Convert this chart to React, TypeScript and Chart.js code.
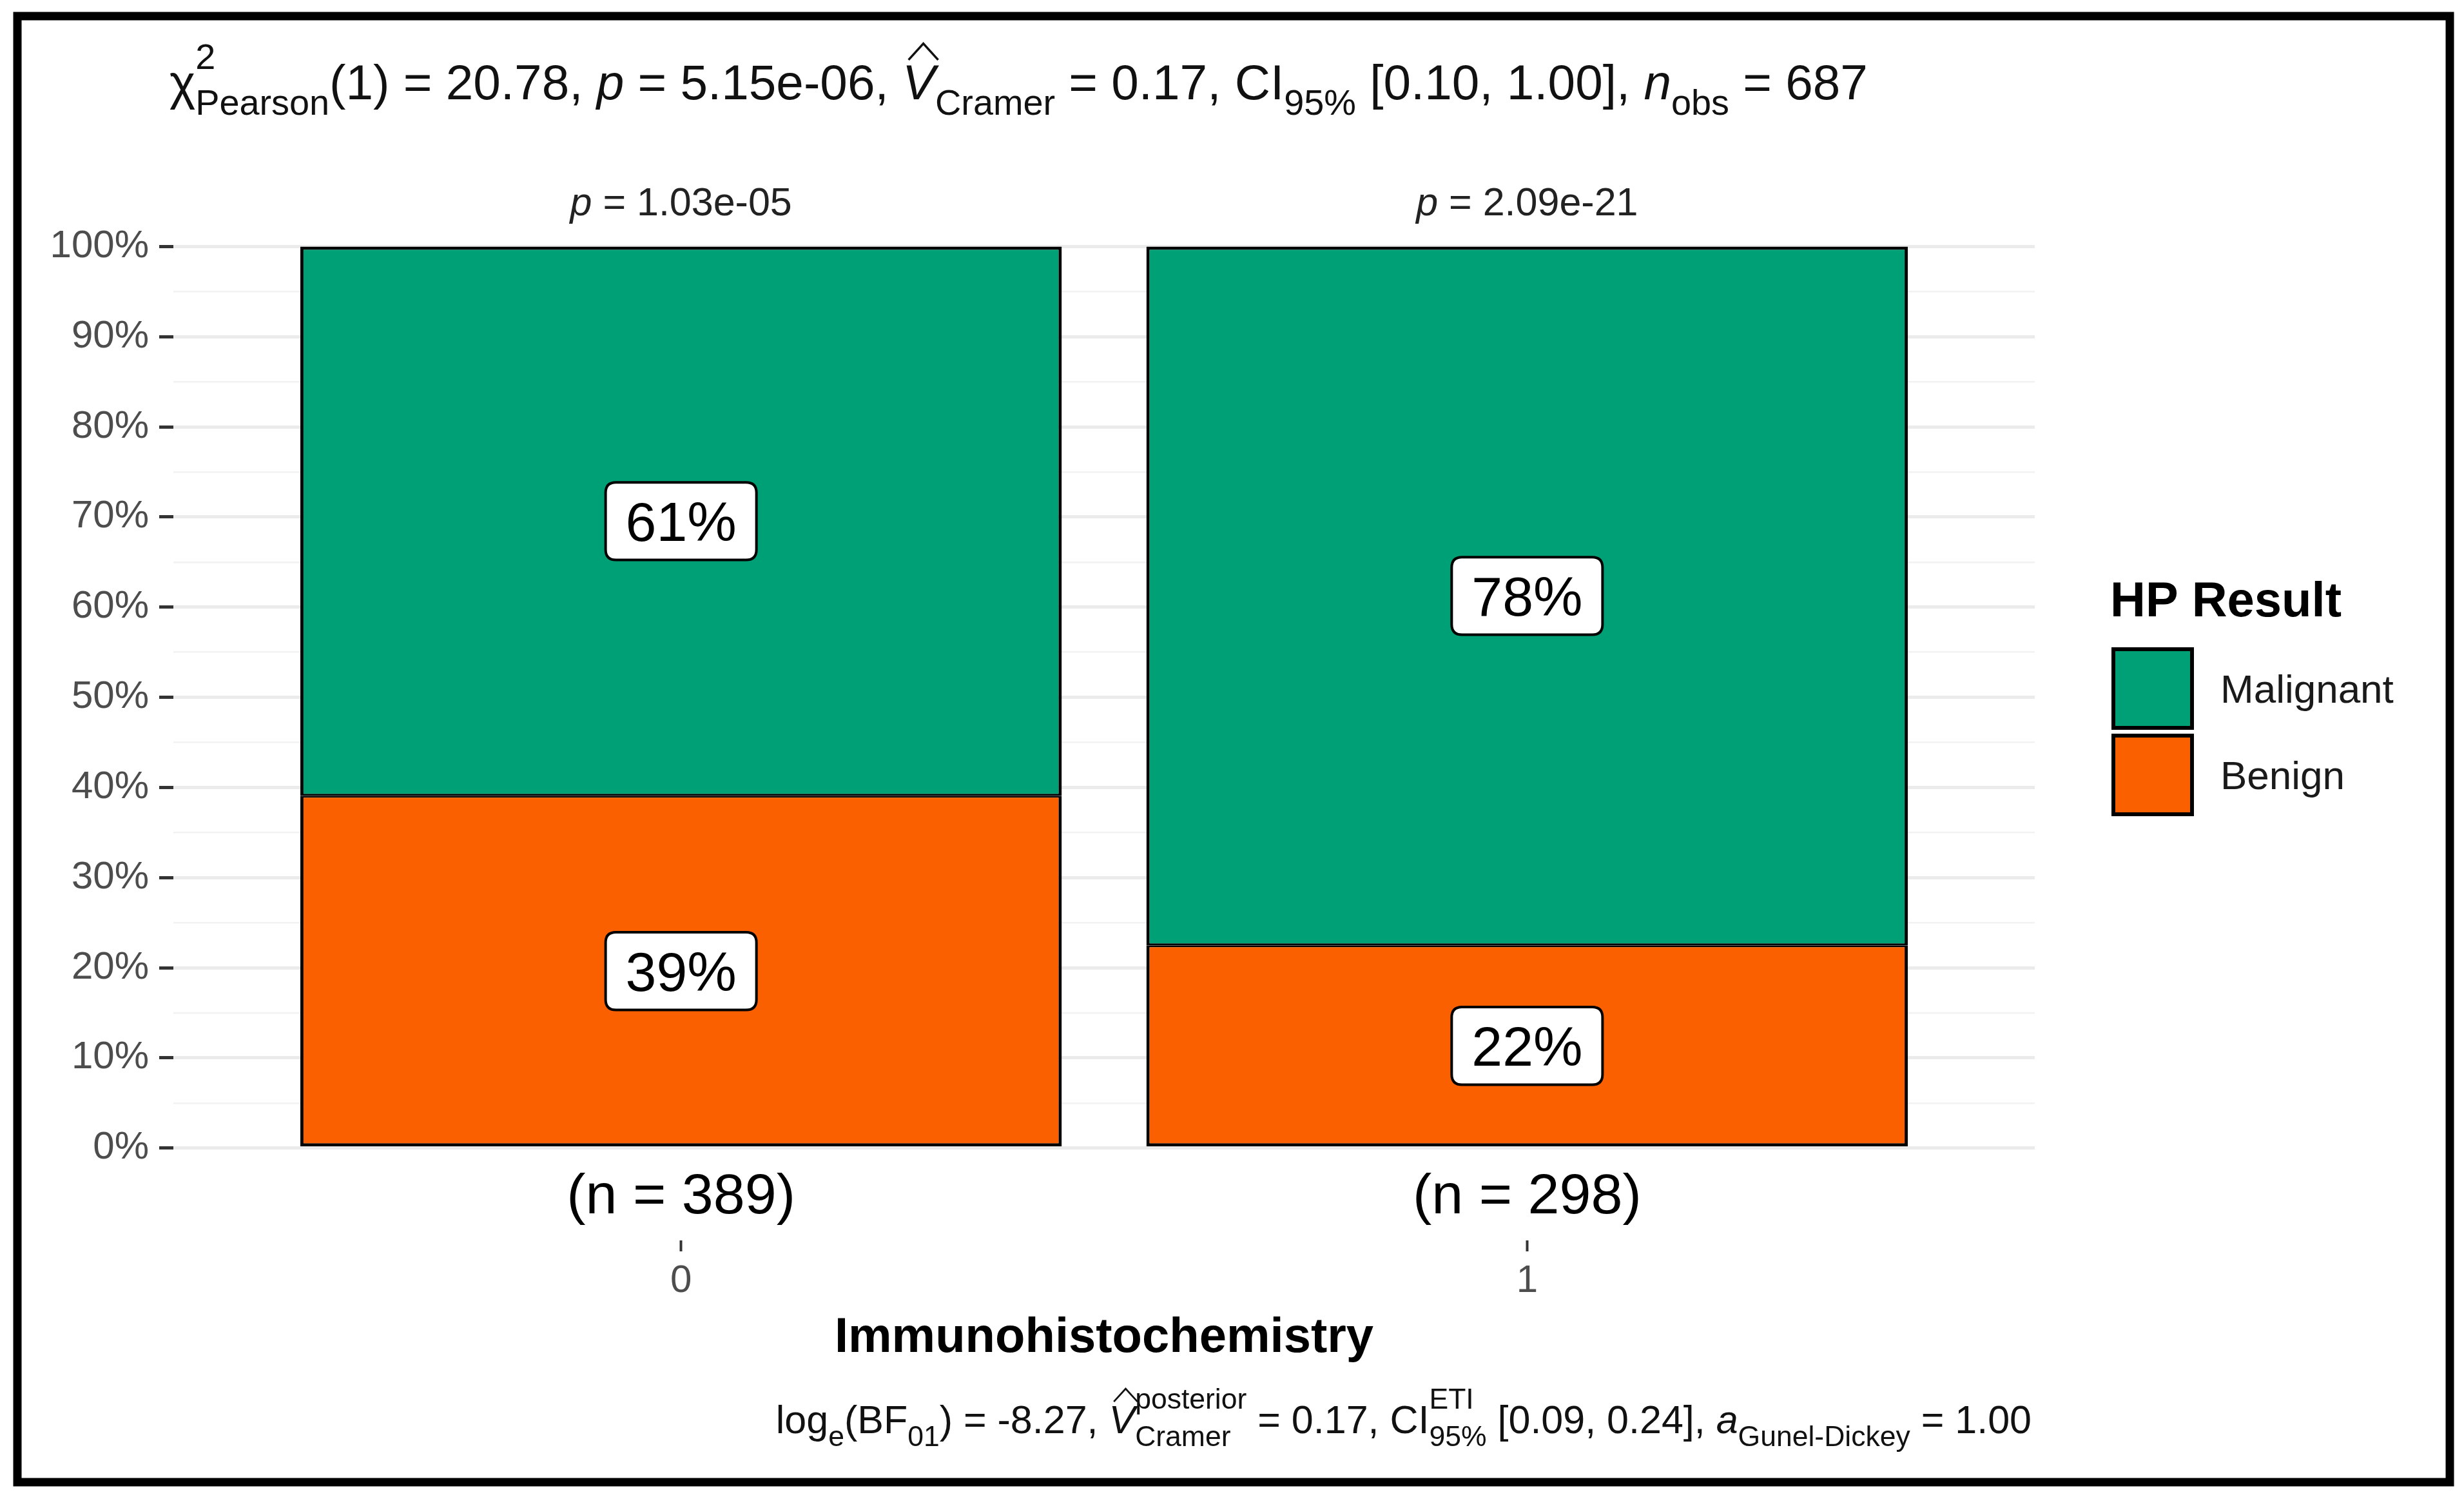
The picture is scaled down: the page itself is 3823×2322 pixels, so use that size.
import React, { useEffect, useRef } from "react";
import { Chart, registerables } from "chart.js";

Chart.register(...registerables);

// ---------- data ----------
const categories = ["0", "1"];
const sampleSizes = [389, 298];
const malignantPct = [60.93, 77.52];
const benignPct = [39.07, 22.48];
const groupPValues = ["1.03e-05", "2.09e-21"];
const majorTicks = [0, 10, 20, 30, 40, 50, 60, 70, 80, 90, 100];
const minorTicks = [5, 15, 25, 35, 45, 55, 65, 75, 85, 95];
const legendTitle = "HP Result";
const xAxisTitle = "Immunohistochemistry";

// ---------- styles ----------
const W = 3823;
const H = 2322;
const FONT = "'Liberation Sans', Arial, Helvetica, sans-serif";
const GREEN = "#00A077";
const ORANGE = "#FA6000";

type Seg = { t?: string; it?: boolean; hat?: boolean; sup?: string; sub?: string };

const titleSegs: Seg[] = [
  { t: "\u03C7", sup: "2", sub: "Pearson" },
  { t: "(1) = 20.78, " },
  { t: "p", it: true },
  { t: " = 5.15e-06, " },
  { t: "V", it: true, hat: true, sub: "Cramer" },
  { t: " = 0.17, CI", sub: "95%" },
  { t: " [0.10, 1.00], " },
  { t: "n", it: true, sub: "obs" },
  { t: " = 687" },
];

const captionSegs: Seg[] = [
  { t: "log", sub: "e" },
  { t: "(BF", sub: "01" },
  { t: ") = -8.27, " },
  { t: "V", it: true, hat: true, sup: "posterior", sub: "Cramer" },
  { t: " = 0.17, CI", sup: "ETI", sub: "95%" },
  { t: " [0.09, 0.24], " },
  { t: "a", it: true, sub: "Gunel-Dickey" },
  { t: " = 1.00" },
];

function rich(
  ctx: CanvasRenderingContext2D,
  segs: Seg[],
  x: number,
  base: number,
  M: number,
  draw: boolean
): number {
  const S = M * 0.73;
  let cx = x;
  for (const s of segs) {
    if (s.t) {
      ctx.font = `${s.it ? "italic " : ""}${M}px ${FONT}`;
      const w = ctx.measureText(s.t).width;
      if (draw) {
        ctx.fillText(s.t, cx, base);
        if (s.hat) {
          const off = s.it ? M * 0.06 : 0;
          ctx.save();
          ctx.lineWidth = M * 0.045;
          ctx.lineJoin = "miter";
          ctx.beginPath();
          ctx.moveTo(cx + w * 0.1 + off, base - M * 0.8);
          ctx.lineTo(cx + w * 0.55 + off, base - M * 1.13);
          ctx.lineTo(cx + w * 1.0 + off, base - M * 0.8);
          ctx.stroke();
          ctx.restore();
        }
      }
      cx += w;
    }
    if (s.sup || s.sub) {
      ctx.font = `${S}px ${FONT}`;
      let w = 0;
      if (s.sup) {
        w = Math.max(w, ctx.measureText(s.sup).width);
        if (draw) ctx.fillText(s.sup, cx, base - M * 0.62);
      }
      if (s.sub) {
        w = Math.max(w, ctx.measureText(s.sub).width);
        if (draw) ctx.fillText(s.sub, cx, base + M * 0.32);
      }
      cx += w;
    }
  }
  return cx - x;
}

function roundRect(ctx: CanvasRenderingContext2D, x: number, y: number, w: number, h: number, r: number) {
  ctx.beginPath();
  ctx.moveTo(x + r, y);
  ctx.lineTo(x + w - r, y);
  ctx.quadraticCurveTo(x + w, y, x + w, y + r);
  ctx.lineTo(x + w, y + h - r);
  ctx.quadraticCurveTo(x + w, y + h, x + w - r, y + h);
  ctx.lineTo(x + r, y + h);
  ctx.quadraticCurveTo(x, y + h, x, y + h - r);
  ctx.lineTo(x, y + r);
  ctx.quadraticCurveTo(x, y, x + r, y);
  ctx.closePath();
}

const decorPlugin = {
  id: "decor",
  beforeDraw(chart: any) {
    const ctx = chart.ctx as CanvasRenderingContext2D;
    ctx.save();
    ctx.fillStyle = "#FFFFFF";
    ctx.fillRect(0, 0, chart.width, chart.height);
    ctx.restore();
  },
  afterDatasetsDraw(chart: any) {
    const ctx = chart.ctx as CanvasRenderingContext2D;
    const fs = 86;
    ctx.save();
    chart.data.datasets.forEach((ds: any, di: number) => {
      const meta = chart.getDatasetMeta(di);
      meta.data.forEach((el: any, i: number) => {
        const p = el.getProps(["x", "y", "base"], true);
        const cy = (p.y + p.base) / 2;
        const label = Math.round(ds.data[i].y) + "%";
        ctx.font = `${fs}px ${FONT}`;
        const tw = ctx.measureText(label).width;
        const bw = tw + fs * 0.72;
        const bh = fs * 1.4;
        roundRect(ctx, p.x - bw / 2, cy - bh / 2, bw, bh, 16);
        ctx.fillStyle = "#FFFFFF";
        ctx.fill();
        ctx.lineWidth = 4;
        ctx.strokeStyle = "#000000";
        ctx.stroke();
        ctx.fillStyle = "#000000";
        ctx.textAlign = "center";
        ctx.textBaseline = "alphabetic";
        ctx.fillText(label, p.x, cy + fs * 0.36);
      });
    });
    ctx.restore();
  },
  afterDraw(chart: any) {
    const ctx = chart.ctx as CanvasRenderingContext2D;
    const xs = chart.scales.x;
    const ys = chart.scales.y;
    const area = chart.chartArea;
    ctx.save();
    ctx.textAlign = "left";
    ctx.textBaseline = "alphabetic";

    // title
    ctx.fillStyle = "#111111";
    ctx.strokeStyle = "#111111";
    rich(ctx, titleSegs, 263, 154, 76.5, true);

    // group p-values and sample sizes
    categories.forEach((c, i) => {
      const px = xs.getPixelForValue(i + 1);
      const pSegs: Seg[] = [{ t: "p", it: true }, { t: " = " + groupPValues[i] }];
      const pm = 61;
      const pw = rich(ctx, pSegs, 0, 0, pm, false);
      ctx.fillStyle = "#222222";
      rich(ctx, pSegs, px - pw / 2, ys.getPixelForValue(105) + pm * 0.36, pm, true);

      ctx.fillStyle = "#000000";
      ctx.font = `88px ${FONT}`;
      ctx.textAlign = "center";
      ctx.fillText(`(n = ${sampleSizes[i]})`, px, ys.getPixelForValue(-5) + 88 * 0.36);
      ctx.textAlign = "left";
    });

    // x axis title
    ctx.fillStyle = "#000000";
    ctx.font = `bold 76px ${FONT}`;
    ctx.textAlign = "center";
    ctx.fillText(xAxisTitle, (area.left + area.right) / 2, 2097);
    ctx.textAlign = "left";

    // caption (right aligned to panel)
    ctx.fillStyle = "#111111";
    ctx.strokeStyle = "#111111";
    const cm = 61;
    const cw = rich(ctx, captionSegs, 0, 0, cm, false);
    rich(ctx, captionSegs, area.right - 5 - cw, 2223, cm, true);

    // legend
    ctx.fillStyle = "#000000";
    ctx.font = `bold 76px ${FONT}`;
    ctx.fillText(legendTitle, 3274, 956);
    const dsets = chart.data.datasets.slice().reverse();
    dsets.forEach((ds: any, k: number) => {
      const ky = 1007 + k * 134;
      ctx.fillStyle = ds.backgroundColor;
      ctx.fillRect(3279, ky, 122, 122);
      ctx.lineWidth = 6;
      ctx.strokeStyle = "#000000";
      ctx.strokeRect(3279, ky, 122, 122);
      ctx.fillStyle = "#1A1A1A";
      ctx.font = `62px ${FONT}`;
      ctx.fillText(ds.label, 3445, ky + 61 + 62 * 0.36);
    });

    // outer frame
    ctx.lineWidth = 13;
    ctx.strokeStyle = "#000000";
    ctx.strokeRect(27, 25, 3774, 2274);
    ctx.restore();
  },
};

export default function App() {
  const ref = useRef<HTMLCanvasElement | null>(null);

  useEffect(() => {
    if (!ref.current) return;
    const isMajor = (v: number) => majorTicks.includes(v);
    const chart = new Chart(ref.current, {
      type: "bar",
      data: {
        datasets: [
          {
            label: "Benign",
            data: benignPct.map((v, i) => ({ x: i + 1, y: v })),
            backgroundColor: ORANGE,
            borderColor: "#000000",
            borderWidth: { top: 3, left: 5, right: 5, bottom: 5 },
            borderSkipped: false,
          },
          {
            label: "Malignant",
            data: malignantPct.map((v, i) => ({ x: i + 1, y: v })),
            backgroundColor: GREEN,
            borderColor: "#000000",
            borderWidth: { top: 5, left: 5, right: 5, bottom: 3 },
            borderSkipped: false,
          },
        ] as any,
      },
      options: {
        animation: false,
        responsive: false,
        devicePixelRatio: 1,
        barPercentage: 1,
        categoryPercentage: 0.9,
        layout: { padding: { top: 309, right: 666, bottom: 0, left: 0 } },
        plugins: {
          legend: { display: false },
          tooltip: { enabled: false },
          title: { display: false },
        },
        scales: {
          x: {
            type: "linear",
            stacked: true,
            offset: false,
            min: 0.4,
            max: 2.6,
            afterBuildTicks: (scale: any) => {
              scale.ticks = categories.map((_, i) => ({ value: i + 1 }));
            },
            afterFit: (scale: any) => {
              scale.height = 398;
            },
            ticks: {
              autoSkip: false,
              maxRotation: 0,
              padding: 10,
              color: "#4D4D4D",
              font: { family: FONT, size: 60 },
              callback: (v: any) => categories[Math.round(Number(v)) - 1] ?? "",
            },
            grid: {
              offset: false,
              drawOnChartArea: false,
              drawTicks: true,
              tickLength: 17,
              tickColor: "#333333",
              tickWidth: 4,
            },
            border: { display: false },
          },
          y: {
            type: "linear",
            stacked: true,
            min: -10.25,
            max: 105.25,
            afterBuildTicks: (scale: any) => {
              scale.ticks = [...majorTicks, ...minorTicks]
                .sort((a, b) => a - b)
                .map((v) => ({ value: v }));
            },
            afterFit: (scale: any) => {
              scale.width = 269;
            },
            ticks: {
              autoSkip: false,
              padding: 16,
              color: "#4D4D4D",
              font: { family: FONT, size: 60 },
              callback: (v: any) => (isMajor(Number(v)) ? `${v}%` : ""),
            },
            grid: {
              drawTicks: true,
              tickLength: 22,
              color: (c: any) => (c.tick && isMajor(c.tick.value) ? "#EBEBEB" : "#F2F2F2"),
              lineWidth: (c: any) => (c.tick && isMajor(c.tick.value) ? 5 : 2.5),
              tickColor: (c: any) =>
                c.tick && isMajor(c.tick.value) ? "#333333" : "rgba(0,0,0,0)",
              tickWidth: 5,
            },
            border: { display: false },
          },
        },
      } as any,
      plugins: [decorPlugin],
    });
    return () => chart.destroy();
  }, []);

  return (
    <div style={{ position: "fixed", left: 0, top: 0, width: W, height: H, background: "#FFFFFF" }}>
      <canvas ref={ref} width={W} height={H} style={{ display: "block", width: W, height: H }} />
    </div>
  );
}
